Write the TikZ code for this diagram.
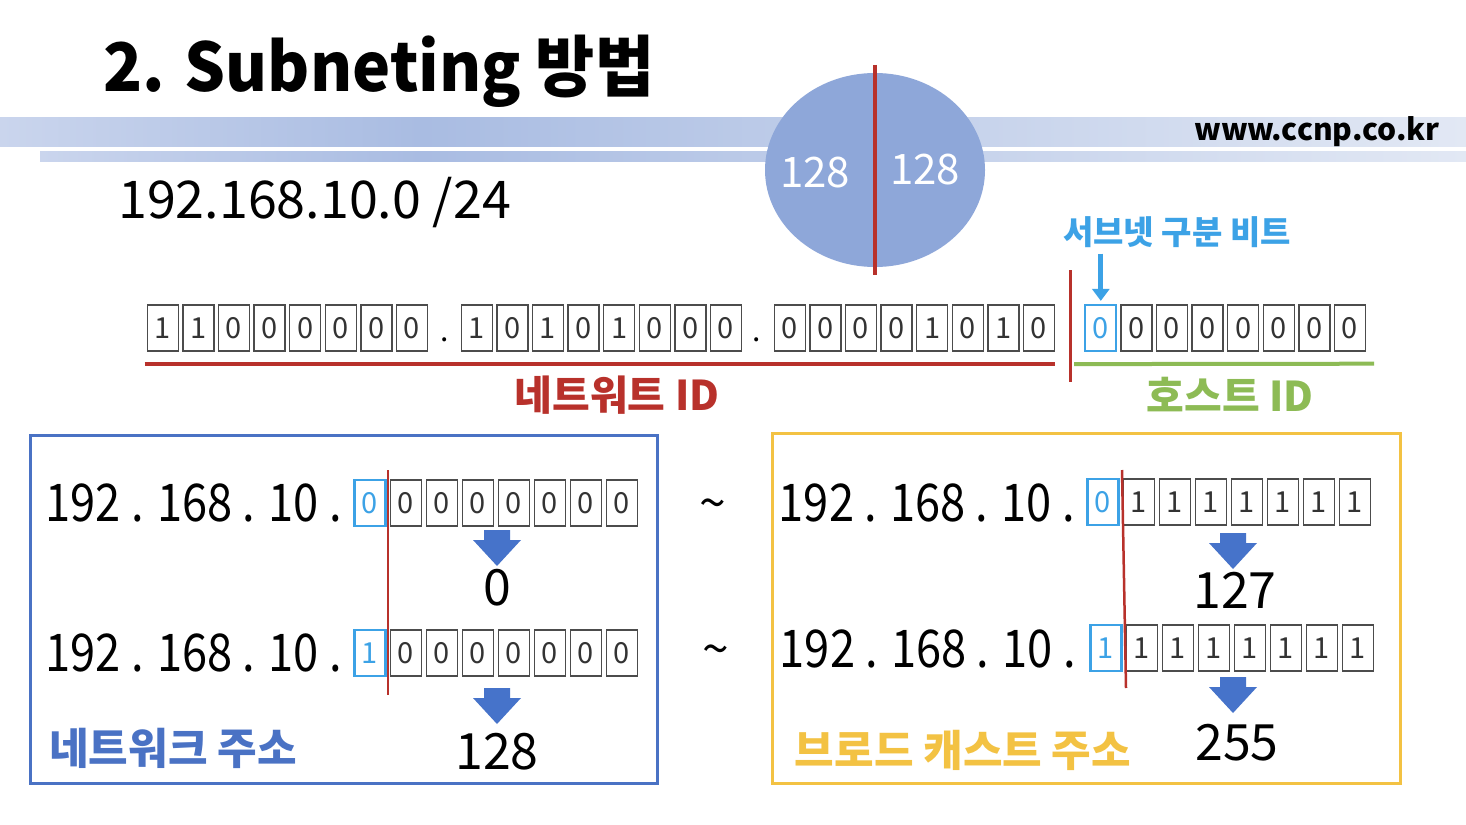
\documentclass[tikz,border=0pt]{standalone}
\usepackage{fontspec}
\setmainfont{Noto Sans CJK KR}
\usetikzlibrary{arrows.meta,shapes.geometric}
\definecolor{bandA}{HTML}{A9BCE2}
\definecolor{bandL}{HTML}{CAD5ED}
\definecolor{bandR}{HTML}{E2E8F4}
\definecolor{circ}{HTML}{8EA7D9}
\definecolor{netred}{HTML}{B8312B}
\definecolor{hostgreen}{HTML}{8DBB55}
\definecolor{sky}{HTML}{3CA2E6}
\definecolor{blueframe}{HTML}{4A72C4}
\definecolor{goldframe}{HTML}{F3C243}
\definecolor{arrowblue}{HTML}{4673CA}
\newcommand\fs[1]{\fontsize{#1}{#1}\selectfont}
\newcommand\ipaddr{\scalebox{0.87}[1]{192 . 168 . 10 .}}
\newcommand\bitrow[7]{%
  \node[bitbox,#5] (#1-1) at ({#2+#4/2},#3) {#6};
  \foreach \b [count=\i from 2] in {#7} {
    \node[bitbox] (#1-\i) at ({#2+#4/2+(\i-1)*#4},#3) {\b};
  }}
\newcommand\blockarrow[2]{\fill[arrowblue] ({#1-13},#2) -- ({#1+13},#2) -- ({#1+13},{#2+10}) -- ({#1+24},{#2+10}) -- (#1,{#2+36}) -- ({#1-24},{#2+10}) -- ({#1-13},{#2+10}) -- cycle;}
\begin{document}
\begin{tikzpicture}[x=1pt,y=-1pt,
  bitbox/.style={draw=black!70, line width=1.4pt, minimum width=31pt, minimum height=46pt, inner sep=0pt, text=black!80, font=\fs{29}},
  subbit/.style={draw=sky, line width=2.2pt, text=sky},
  txt/.style={inner sep=0pt}]
\useasboundingbox (0,0) rectangle (1466,824);
\fill[white] (0,0) rectangle (1466,824);
% header bands
\shade[left color=bandL, right color=bandA] (0,118) rectangle (420,146);
\shade[left color=bandA, right color=bandR] (420,118) rectangle (1466,146);
\shade[left color=bandL, right color=bandA] (40,151) rectangle (420,161);
\shade[left color=bandA, right color=bandR] (420,151) rectangle (1466,161);
% title
\node[txt, font=\fs{67}\bfseries, anchor=base west] (title) at (103,92) {\scalebox{0.96}[1]{2. Subneting 방법}};
\node[txt, font=\fs{30}\bfseries, anchor=base east] (url) at (1440,140) {www.ccnp.co.kr};
\node[txt, font=\fs{52}, anchor=base west] (net) at (118,218) {192.168.10.0 /24};
% circle
\node[ellipse, fill=circ, minimum width=220pt, minimum height=194pt, inner sep=0pt] (circ) at (875,170) {};
\draw[netred, line width=3.5pt] (875,65) -- (875,275);
\node[txt, font=\fs{42}, text=white] (c1) at (815,173) {128};
\node[txt, font=\fs{42}, text=white] (c2) at (925,170) {128};
% main bit row
\bitrow{a}{145}{328}{35.6}{}{1}{1,0,0,0,0,0,0}
\bitrow{b}{459}{328}{35.6}{}{1}{0,1,0,1,0,0,0}
\bitrow{c}{772}{328}{35.6}{}{0}{0,0,0,1,0,1,0}
\bitrow{d}{1083}{328}{35.6}{subbit}{0}{0,0,0,0,0,0,0}
\node[txt, font=\fs{30}, anchor=base] (dot1) at (445,341) {.};
\node[txt, font=\fs{30}, anchor=base] (dot2) at (757,341) {.};
\draw[netred, line width=4pt] ([xshift=-2pt,yshift=-12pt]a-1.south west) -- ([yshift=-12pt]c-8.south east);
\draw[hostgreen, line width=4pt] ([xshift=-10pt,yshift=-12pt]d-1.south west) -- ([xshift=8pt,yshift=-12pt]d-8.south east);
\draw[netred, line width=3pt] (1070,270) -- (1070,382);
\node[txt, font=\fs{41}\bfseries, text=netred] (netid) at (617,395) {네트워트 ID};
\node[txt, font=\fs{41}\bfseries, text=hostgreen] (hostid) at (1230,395) {호스트 ID};
\node[txt, font=\fs{33}\bfseries, text=sky] (sublabel) at (1177,232) {서브넷 구분 비트};
\draw[sky, line width=5pt, -{Triangle[width=17pt,length=12pt]}, shorten <=6pt, shorten >=3pt] (sublabel.south -| d-1.north) -- (d-1.north);
% panels
\node[draw=blueframe, line width=3pt, minimum width=627pt, minimum height=348pt, inner sep=0pt] (netpanel) at (343.5,609) {};
\node[draw=goldframe, line width=3pt, minimum width=628pt, minimum height=350pt, inner sep=0pt] (bcpanel) at (1086,608) {};
% left panel
\node[txt, font=\fs{52}, anchor=base east] (ipL1) at (342,521) {\ipaddr};
\bitrow{L1}{352}{503}{36}{subbit}{0}{0,0,0,0,0,0,0}
\node[txt, font=\fs{52}, anchor=base east] (ipL2) at (342,671) {\ipaddr};
\bitrow{L2}{352}{653}{36}{subbit}{1}{0,0,0,0,0,0,0}
\draw[netred, line width=2.5pt] (388,470) -- (388,695);
\blockarrow{497}{530}
\blockarrow{497}{688}
\node[txt, font=\fs{50}] (v0) at (497,588) {0};
\node[txt, font=\fs{50}] (v128) at (497,752) {128};
\node[txt, font=\fs{43}\bfseries, text=blueframe] (nl) at (173,748) {네트워크 주소};
% tildes
\node[txt, font=\fs{48}] (t1) at (713,510) {\textasciitilde};
\node[txt, font=\fs{48}] (t2) at (716,656) {\textasciitilde};
% right panel
\node[txt, font=\fs{52}, anchor=base east] (ipR1) at (1075,521) {\ipaddr};
\bitrow{R1}{1085}{502}{36}{subbit}{0}{1,1,1,1,1,1,1}
\node[txt, font=\fs{52}, anchor=base east] (ipR2) at (1076,667) {\ipaddr};
\bitrow{R2}{1088}{648}{36}{subbit}{1}{1,1,1,1,1,1,1}
\draw[netred, line width=2.5pt] (1122,470) -- (1126,688);
\blockarrow{1233}{533}
\blockarrow{1233}{677}
\node[txt, font=\fs{50}] (v127) at (1235,590) {127};
\node[txt, font=\fs{50}] (v255) at (1237,743) {255};
\node[txt, font=\fs{43}\bfseries, text=goldframe] (bl) at (963,750) {브로드 캐스트 주소};
\end{tikzpicture}
\end{document}
